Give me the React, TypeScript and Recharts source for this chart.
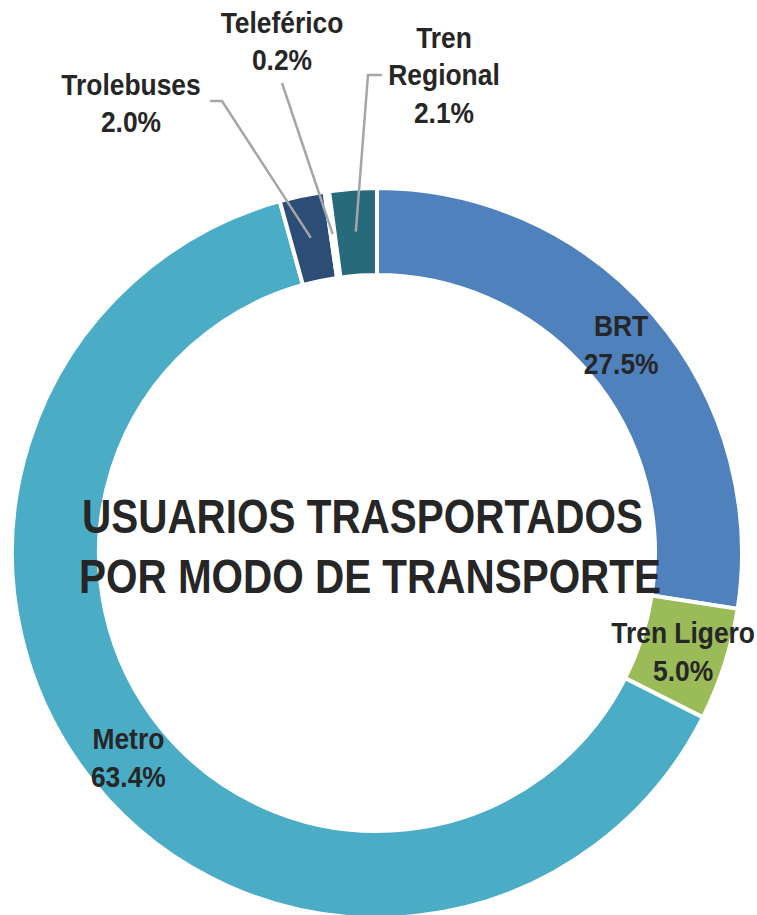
import { PieChart, Pie, Cell } from 'recharts'

const modes = ['BRT', 'Tren Ligero', 'Metro', 'Trolebuses', 'Teleférico', 'Tren Regional']
const shares = [27.5, 5.0, 63.4, 2.0, 0.2, 2.1]
const colors = ['#4F81BD', '#9BBB59', '#4BACC6', '#2C4D75', '#FFFFFF', '#276A7C']
const titleLines = ['USUARIOS TRASPORTADOS', 'POR MODO DE TRANSPORTE']

const data = modes.map((name, i) => ({ name, value: shares[i] }))

const FONT = "'Liberation Sans', Arial, sans-serif"
const TEXT = '#262626'
const LEADER = '#A6A6A6'
const RAD = Math.PI / 180
const NARROW = 0.88
const CX = 377
const CY = 553

// outside labels for the thin slices: first baseline offset from the centre + leader elbow
const outside: Record<string, { dx: number; dy: number; lines: string[]; path: [number, number][] }> = {
  Trolebuses: { dx: -246, dy: -458, lines: ['Trolebuses'], path: [[-167, -452], [-155, -452]] },
  'Teleférico': { dx: -95, dy: -520, lines: ['Teleférico'], path: [[-95, -470]] },
  'Tren Regional': { dx: 67, dy: -505, lines: ['Tren', 'Regional'], path: [[5, -478], [-9, -478]] },
}

function NarrowText({ x, y, lines, gap }: { x: number; y: number; lines: string[]; gap: number }) {
  return (
    <g transform={`translate(${x} ${y}) scale(${NARROW} 1)`}>
      <text textAnchor="middle" fontFamily={FONT} fontWeight="bold" fontSize={30} fill={TEXT}>
        {lines.map((t, i) => (
          <tspan key={i} x={0} y={i * gap}>{t}</tspan>
        ))}
      </text>
    </g>
  )
}

function renderLabel(props: any) {
  const { cx, cy, midAngle, innerRadius, outerRadius, name, value } = props
  const pct = `${Number(value).toFixed(1)}%`
  const mid = (innerRadius + outerRadius) / 2
  const o = outside[name]
  if (o) {
    const ex = cx + 322 * Math.cos(-midAngle * RAD)
    const ey = cy + 322 * Math.sin(-midAngle * RAD)
    const pts = [...o.path.map(([x, y]) => `${cx + x},${cy + y}`), `${ex},${ey}`].join(' ')
    return (
      <g key={name}>
        <polyline points={pts} fill="none" stroke={LEADER} strokeWidth={2.5} />
        <NarrowText x={cx + o.dx} y={cy + o.dy} lines={[...o.lines, pct]} gap={37.5} />
      </g>
    )
  }
  const x = cx + mid * Math.cos(-midAngle * RAD)
  const y = cy + mid * Math.sin(-midAngle * RAD)
  return (
    <g key={name}>
      <NarrowText x={x} y={y - 8} lines={[name, pct]} gap={38} />
    </g>
  )
}

export default function App() {
  return (
    <div style={{ position: 'fixed', left: 0, top: 0, width: 757, height: 915, background: '#fff' }}>
      <PieChart width={757} height={915} margin={{ top: 0, right: 0, bottom: 0, left: 0 }}>
        <Pie
          data={data}
          dataKey="value"
          nameKey="name"
          cx={CX}
          cy={CY}
          innerRadius={278}
          outerRadius={365}
          startAngle={90}
          endAngle={-270}
          stroke="#fff"
          strokeWidth={4}
          label={renderLabel}
          labelLine={false}
          isAnimationActive={false}
        >
          {data.map((d, i) => (
            <Cell key={d.name} fill={colors[i]} />
          ))}
        </Pie>
      </PieChart>
      <svg width={757} height={915} style={{ position: 'absolute', left: 0, top: 0, pointerEvents: 'none' }}>
        <text fontFamily={FONT} fontWeight="bold" fontSize={49} fill={TEXT}>
          <tspan x={CX - 295} y={CY - 20} textLength={561} lengthAdjust="spacingAndGlyphs">{titleLines[0]}</tspan>
          <tspan x={CX - 298} y={CY + 40} textLength={582} lengthAdjust="spacingAndGlyphs">{titleLines[1]}</tspan>
        </text>
      </svg>
    </div>
  )
}
